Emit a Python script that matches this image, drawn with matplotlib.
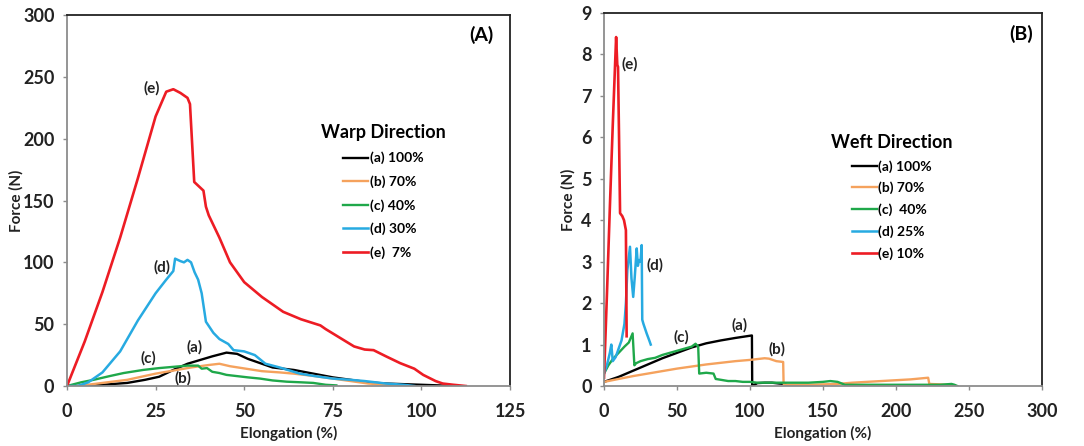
import numpy as np
import matplotlib
matplotlib.use("Agg")
import matplotlib.pyplot as plt

plt.rcParams['font.family'] = ['Lato', 'DejaVu Sans']
plt.rcParams['font.weight'] = 'bold'

## colours of the five fabrics (a)..(e)
col_a = '#000000'
col_b = '#F5A25D'
col_c = '#1FA84A'
col_d = '#27AAE1'
col_e = '#ED1C24'

## Warp direction (panel A)
warp_a_x = [0, 5, 10, 17, 22, 26, 30, 34, 37.5, 41, 45, 48, 51, 54.5, 58, 64, 69.5, 75, 80, 85, 90, 95, 100, 105, 110]
warp_a_y = [0, 0, 1, 2.5, 5, 7.5, 13, 18, 21, 24, 27, 26, 22, 18.5, 15, 13, 10, 7, 5, 3, 2, 1.5, 1, 0.5, 0]

warp_b_x = [0, 3, 10, 17, 25, 31, 35, 40, 43, 46, 50.5, 55, 60, 64, 70, 75, 80, 85, 90, 95]
warp_b_y = [0, 0, 2.5, 5, 10, 13, 15, 17, 18, 16, 14, 12, 11, 10, 8, 6, 4, 2, 1, 0]

warp_c_x = [0, 4, 7.5, 12, 16, 21.5, 26, 30, 34, 37, 38, 39.5, 41, 43, 45, 48, 51, 54.5, 58, 62, 66, 69.5, 73, 76]
warp_c_y = [0, 3, 5, 8, 10.5, 13, 14.5, 15.5, 16.5, 16.5, 14, 14.5, 11.5, 10.5, 9, 8, 7, 6, 4.5, 3.5, 3, 2.5, 1, 0.5]

warp_d_x = [0, 3, 6, 10, 15, 20, 25, 28, 30, 30.5, 32, 33, 34, 35, 36, 37, 38, 39.2, 41.3, 43, 45.5, 47, 50, 53, 56, 60, 65.7, 70, 75, 80, 84, 90, 95, 98]
warp_d_y = [0, 0, 3, 11, 28, 53, 75, 86, 93, 103, 101, 100, 102, 100, 92, 86, 75, 52, 43, 38, 34, 29, 28, 25, 18, 15, 10, 8, 6, 5, 4, 2, 1, 0]

warp_e_x = [0, 5, 10, 15, 20, 25, 28, 30, 32, 34, 34.7, 35.9, 38.5, 39.2, 40, 43, 46, 50, 55, 61, 66, 71.5, 73, 77, 81, 84, 86.5, 90, 94, 98, 100.5, 104, 106, 109, 112.5]
warp_e_y = [0, 36, 76, 120, 168, 218, 238, 240, 237, 233, 228, 165, 158, 145, 138, 120, 100, 84, 72, 60, 54, 49, 46, 39, 32, 29.5, 29, 24, 18.5, 14, 9, 4, 2, 1, 0]

## Weft direction (panel B)
weft_a_x = [0, 10, 20, 30, 40, 50, 60, 70, 80, 90, 101.3, 101.5, 105, 110, 115, 120, 124]
weft_a_y = [0.1, 0.22, 0.37, 0.52, 0.67, 0.8, 0.93, 1.03, 1.1, 1.16, 1.22, 0.0, 0.07, 0.08, 0.08, 0.06, 0.05]

weft_b_x = [0, 10, 20, 30, 40, 50, 60, 70, 80, 90, 100, 105, 110, 113, 118, 122.7, 123, 125, 140, 160, 170, 180, 200, 210, 222, 222.8, 230, 240]
weft_b_y = [0.1, 0.17, 0.24, 0.3, 0.36, 0.42, 0.47, 0.52, 0.56, 0.6, 0.63, 0.65, 0.67, 0.66, 0.6, 0.58, 0.05, 0.03, 0.03, 0.05, 0.08, 0.1, 0.14, 0.16, 0.2, 0.05, 0.04, 0.02]

weft_c_x = [0, 3, 6, 10, 14, 17, 19.6, 20.8, 22, 25, 30, 35, 40, 45, 50, 55, 60, 62.7, 64.5, 65.2, 70, 75, 76.5, 80, 85, 90, 95, 100, 105, 120, 140, 150, 155, 160, 165, 170, 200, 230, 238, 240, 242]
weft_c_y = [0.3, 0.5, 0.65, 0.8, 0.95, 1.05, 1.27, 0.5, 0.55, 0.6, 0.65, 0.68, 0.75, 0.8, 0.85, 0.9, 0.95, 1.02, 0.95, 0.3, 0.32, 0.3, 0.17, 0.15, 0.12, 0.12, 0.1, 0.1, 0.08, 0.08, 0.08, 0.1, 0.12, 0.1, 0.03, 0.03, 0.03, 0.03, 0.05, 0.03, 0.0]

weft_d_x = [0, 2, 4, 5, 6, 8, 10, 12, 14, 15, 16, 17.8, 18.8, 20, 21, 22.4, 23.2, 24, 25, 25.8, 26.2, 27, 29.2, 31, 32]
weft_d_y = [0.3, 0.5, 0.8, 1.0, 0.6, 0.7, 0.9, 1.1, 1.5, 2.0, 2.8, 3.36, 2.6, 2.15, 2.6, 3.32, 2.9, 3.04, 3.0, 3.4, 1.6, 1.5, 1.27, 1.1, 1.0]

weft_e_x = [0, 2, 4, 6, 8.3, 9.1, 9.6, 10.3, 11, 12.5, 13.7, 15, 15.5]
weft_e_y = [0.2, 2.2, 4.3, 6.3, 8.42, 7.75, 7.7, 6.0, 4.17, 4.1, 4.0, 3.76, 1.2]

warp_labels = ['(a) 100%', '(b) 70%', '(c) 40%', '(d) 30%', '(e)  7%']
weft_labels = ['(a) 100%', '(b) 70%', '(c)  40%', '(d) 25%', '(e) 10%']

fig = plt.figure(figsize=(10.84, 4.46), dpi=100)
ax1 = fig.add_axes([0.0618, 0.1345, 0.4087, 0.8318])
ax2 = fig.add_axes([0.5572, 0.1345, 0.4041, 0.8363])


def style(ax, ylab_x):
    for s in ['top', 'right']:
        ax.spines[s].set_color('#222222')
        ax.spines[s].set_linewidth(1.3)
    for s in ['left', 'bottom']:
        ax.spines[s].set_color('#8c8c8c')
        ax.spines[s].set_linewidth(1.3)
    ax.tick_params(length=3, width=1, color='#8c8c8c', labelsize=13, labelcolor='#222222')
    ax.tick_params(axis='y', pad=6)
    ax.tick_params(axis='x', pad=9)
    for t in ax.get_xticklabels() + ax.get_yticklabels():
        t.set_fontweight('bold')
    ax.set_xlabel('Elongation (%)', fontsize=11, fontweight='bold', color='#222222')
    ax.set_ylabel('Force (N)', fontsize=11, fontweight='bold', color='#222222')
    ax.xaxis.set_label_coords(0.5, -0.108)
    ax.yaxis.set_label_coords(ylab_x, 0.5)


## Panel A
la = ax1.plot(warp_a_x, warp_a_y, color=col_a, lw=1.7)[0]
lb = ax1.plot(warp_b_x, warp_b_y, color=col_b, lw=1.7)[0]
lc = ax1.plot(warp_c_x, warp_c_y, color=col_c, lw=1.7)[0]
ld = ax1.plot(warp_d_x, warp_d_y, color=col_d, lw=1.8)[0]
le = ax1.plot(warp_e_x, warp_e_y, color=col_e, lw=1.9)[0]
ax1.set_xlim(0, 125)
ax1.set_ylim(0, 300)
ax1.set_xticks(np.arange(0, 126, 25))
ax1.set_yticks(np.arange(0, 301, 50))
style(ax1, -0.099)
lg1 = ax1.legend([la, lb, lc, ld, le], warp_labels, title='Warp Direction', frameon=False,
                 loc='upper left', bbox_to_anchor=(0.545, 0.74), prop={'size': 10, 'weight': 'bold'},
                 handlelength=1.8, handletextpad=0.1, labelspacing=0.78)
lg1.get_title().set_fontsize(13)
lg1.get_title().set_fontweight('bold')
ax1.text(117, 284, '(A)', fontsize=14, fontweight='bold', ha='center', va='center')
for lab, x, y in [('(e)', 24, 241), ('(d)', 26.8, 96), ('(a)', 36, 31), ('(c)', 23, 22), ('(b)', 32.8, 6)]:
    ax1.text(x, y, lab, fontsize=11, fontweight='bold', ha='center', va='center', color='#222222')

## Panel B
la = ax2.plot(weft_a_x, weft_a_y, color=col_a, lw=1.7)[0]
lb = ax2.plot(weft_b_x, weft_b_y, color=col_b, lw=1.7)[0]
lc = ax2.plot(weft_c_x, weft_c_y, color=col_c, lw=1.7)[0]
ld = ax2.plot(weft_d_x, weft_d_y, color=col_d, lw=1.8)[0]
le = ax2.plot(weft_e_x, weft_e_y, color=col_e, lw=1.9)[0]
ax2.set_xlim(0, 300)
ax2.set_ylim(0, 9)
ax2.set_xticks(np.arange(0, 301, 50))
ax2.set_yticks(np.arange(0, 10, 1))
style(ax2, -0.064)
lg2 = ax2.legend([la, lb, lc, ld, le], weft_labels, title='Weft Direction', frameon=False,
                 loc='upper left', bbox_to_anchor=(0.49, 0.71), prop={'size': 10, 'weight': 'bold'},
                 handlelength=1.8, handletextpad=0.1, labelspacing=0.66)
lg2.get_title().set_fontsize(13)
lg2.get_title().set_fontweight('bold')
ax2.text(286, 8.5, '(B)', fontsize=14, fontweight='bold', ha='center', va='center')
for lab, x, y in [('(e)', 17.8, 7.76), ('(d)', 34.9, 2.9), ('(c)', 53.2, 1.18), ('(a)', 93, 1.47), ('(b)', 118.6, 0.89)]:
    ax2.text(x, y, lab, fontsize=11, fontweight='bold', ha='center', va='center', color='#222222')

fig.savefig('out.png', dpi=100)
